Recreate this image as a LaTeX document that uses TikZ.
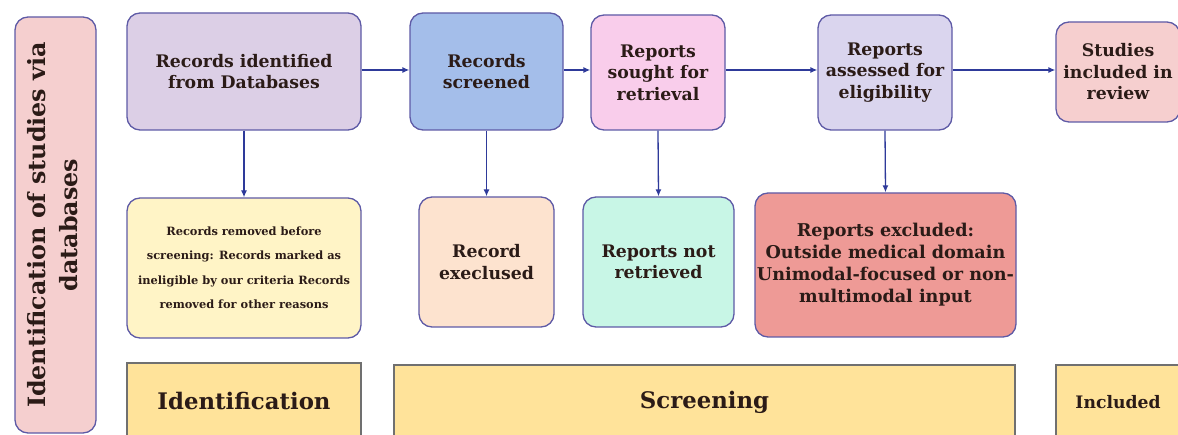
\documentclass[tikz,border=0pt]{standalone}
\usepackage{fontspec}
\setmainfont{DejaVu Serif}
\usetikzlibrary{arrows.meta}
\definecolor{edgec}{HTML}{5E5AA6}
\definecolor{arrc}{HTML}{2E3A9A}
\definecolor{txtc}{HTML}{2B1B17}
\definecolor{bandc}{HTML}{FFE39A}
\definecolor{bandedge}{HTML}{707070}
\definecolor{cRid}{HTML}{DCCFE6}
\definecolor{cScr}{HTML}{A4BEEA}
\definecolor{cSought}{HTML}{F9CDEB}
\definecolor{cAssess}{HTML}{DAD5EE}
\definecolor{cStud}{HTML}{F6CFCF}
\definecolor{cRem}{HTML}{FFF4C6}
\definecolor{cExc}{HTML}{FDE3CF}
\definecolor{cNot}{HTML}{C8F6E6}
\definecolor{cRepExc}{HTML}{EE9A96}
\definecolor{cLeft}{HTML}{F5CFCF}
\begin{document}
\begin{tikzpicture}[x=1pt,y=-1pt,
  box/.style={draw=edgec, line width=1.3pt, rounded corners=13pt, align=center,
    font=\fontsize{17.3}{21.5}\selectfont\bfseries, text=txtc, inner sep=0pt},
  smallbox/.style={box, font=\fontsize{11.4}{24.5}\selectfont\bfseries},
  band/.style={draw=bandedge, line width=1.2pt, fill=bandc, inner sep=0pt,
    font=\fontsize{22.8}{26}\selectfont\bfseries, text=txtc},
  conn/.style={draw=arrc, line width=1.3pt, -{Latex[length=7pt,width=6pt]}}]
\useasboundingbox (0,0) rectangle (1178,435);
% left vertical label box
\node[box, fill=cLeft, minimum width=81pt, minimum height=416pt,
  font=\fontsize{23.8}{32}\selectfont\bfseries] (side) at (55.5,225)
  {\rotatebox{90}{\begin{tabular}{@{}c@{}}Identification of studies via\\databases\end{tabular}}};
% top row
\node[box, fill=cRid, minimum width=234pt, minimum height=117pt] (rid) at (244,71.5)
  {Records identified\\from Databases};
\node[box, fill=cScr, minimum width=153pt, minimum height=117pt] (rscr) at (486.5,71.5)
  {Records\\screened};
\node[box, fill=cSought, minimum width=134pt, minimum height=115pt] (rsought) at (658,72.5)
  {Reports\\sought for\\retrieval};
\node[box, fill=cAssess, minimum width=134pt, minimum height=115pt] (rassess) at (885,72.5)
  {Reports\\assessed for\\eligibility};
\node[box, fill=cStud, minimum width=124pt, minimum height=100pt] (stud) at (1118,72)
  {Studies\\included in\\review};
% second row
\node[smallbox, fill=cRem, minimum width=234pt, minimum height=140pt] (rrem) at (244,268)
  {Records removed before\\screening: Records marked as\\ineligible by our criteria Records\\removed for other reasons};
\node[box, fill=cExc, minimum width=135pt, minimum height=130pt] (rexc) at (486.5,262)
  {Record\\execlused};
\node[box, fill=cNot, minimum width=151pt, minimum height=130pt] (rnot) at (658.5,262)
  {Reports not\\retrieved};
\node[box, fill=cRepExc, minimum width=261pt, minimum height=144pt,
  font=\fontsize{17.6}{22}\selectfont\bfseries] (repexc) at (885.5,265)
  {Reports excluded:\\Outside medical domain\\Unimodal-focused or non-\\multimodal input};
% bands
\node[band, minimum width=234pt, minimum height=77pt] (bident) at (244,401.5) {Identification};
\node[band, minimum width=621pt, minimum height=75pt] (bscr) at (704.5,402.5) {Screening};
\node[band, minimum width=124pt, minimum height=75pt,
  font=\fontsize{17.2}{20}\selectfont\bfseries] (bincl) at (1118,402.5) {Included};
% connectors
\draw[conn] (rid.east |- 0,70) -- (rscr.west |- 0,70);
\draw[conn] (rscr.east |- 0,70) -- (rsought.west |- 0,70);
\draw[conn] (rsought.east |- 0,70) -- (rassess.west |- 0,70);
\draw[conn] (rassess.east |- 0,70) -- (stud.west |- 0,70);
\draw[conn] (rid.south) -- (rrem.north);
\draw[conn] (rscr.south) -- (rexc.north);
\draw[conn] (rsought.south) -- (rnot.north);
\draw[conn] (rassess.south) -- (repexc.north);
\end{tikzpicture}
\end{document}
